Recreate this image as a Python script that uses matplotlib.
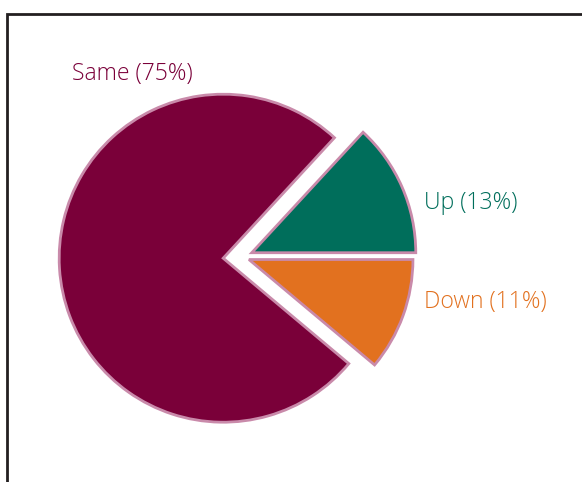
import matplotlib
matplotlib.use("Agg")
import matplotlib.pyplot as plt
from matplotlib.patches import Rectangle

# Share of responses by direction of change
categories = ["Up", "Same", "Down"]
shares = [13, 75, 11]
colors = ["#006e5b", "#7a0039", "#e2711f"]
explode = [0.065, 0.115, 0.045]  # fraction of the radius

W, H = 582, 482
fig = plt.figure(figsize=(W / 100, H / 100), dpi=100)
ax = fig.add_axes([0, 0, 1, 1])

center = (242, H - 257)
radius = 164

wedges, _ = ax.pie(
    shares,
    colors=colors,
    explode=[e * radius for e in explode],
    startangle=0,
    counterclock=True,
    center=center,
    radius=radius,
    wedgeprops=dict(edgecolor="#c98aaa", linewidth=2.0, joinstyle="miter"),
)
ax.set_xlim(0, W)
ax.set_ylim(0, H)
ax.set_aspect("equal")
ax.axis("off")

# Slice labels, coloured like their slices
label_pos = {"Same": (72, H - 74), "Up": (424, H - 203), "Down": (424, H - 302)}
for name, val, col in zip(categories, shares, colors):
    x, y = label_pos[name]
    ax.text(x, y, f"{name} ({val}%)", color=col, fontsize=16.6, fontweight="light",
            family=["Open Sans", "DejaVu Sans"], ha="left", va="center")

# Panel frame (continues past the right and bottom edges)
ax.add_patch(Rectangle((7, -20), W + 40, H - 14 + 20, fill=False,
                       edgecolor="#231f20", linewidth=2.0, clip_on=False))

fig.savefig("out.png", dpi=100)
